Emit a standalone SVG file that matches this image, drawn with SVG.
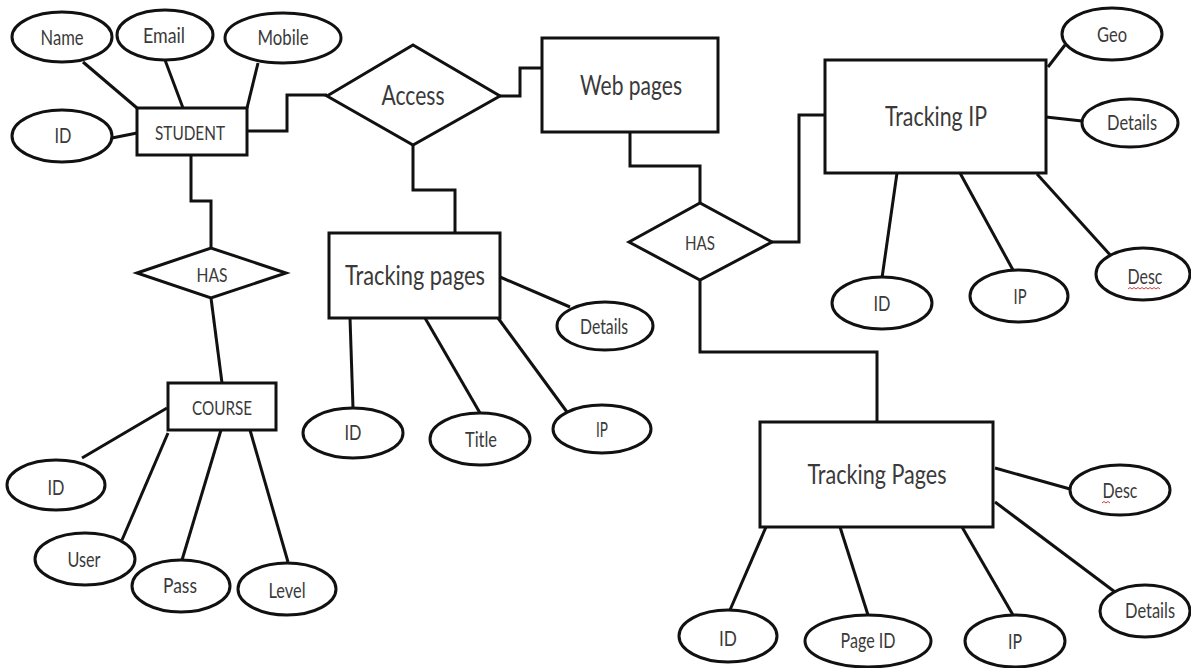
<svg xmlns="http://www.w3.org/2000/svg" width="1191" height="668" viewBox="0 0 1191 668">
<style>
.s{fill:#fff;stroke:#111;stroke-width:3}
.c{fill:none;stroke:#111;stroke-width:3}
text{font-family:Lato,"Open Sans","Liberation Sans",sans-serif;fill:#3a3a3a;text-anchor:middle}
.a{font-size:22px}
.e{font-size:20px}
.b{font-size:27px}
.sq{fill:none;stroke:#d04040;stroke-width:1}
</style>
<rect width="1191" height="668" fill="#fff"/>
<g id="connectors">
<path class="c" d="M83,62 L137,108"/>
<path class="c" d="M165,60 L183,108"/>
<path class="c" d="M258,63 L247,108"/>
<path class="c" d="M112,138 L137,133"/>
<path class="c" d="M247,131 H287 V95 H327"/>
<path class="c" d="M500,96 H520 V68 H542"/>
<path class="c" d="M413,145 V190 H455 V233"/>
<path class="c" d="M191,155 V201 H211 V248"/>
<path class="c" d="M211,298 L222,383"/>
<path class="c" d="M167,408 L82,458"/>
<path class="c" d="M168,433 L122,540"/>
<path class="c" d="M221,430 L182,560"/>
<path class="c" d="M250,430 L288,562"/>
<path class="c" d="M500,277 L570,307"/>
<path class="c" d="M350,318 L353,408"/>
<path class="c" d="M425,318 L480,413"/>
<path class="c" d="M498,318 L567,412"/>
<path class="c" d="M630,132 V166 H700 V203"/>
<path class="c" d="M772,242 H799 V115 H825"/>
<path class="c" d="M700,280 V352 H877 V422"/>
<path class="c" d="M1048,67 L1065,45"/>
<path class="c" d="M1046,117 L1082,121"/>
<path class="c" d="M897,173 L882,278"/>
<path class="c" d="M960,173 L1013,270"/>
<path class="c" d="M1037,174 L1112,257"/>
<path class="c" d="M766,527 L730,610"/>
<path class="c" d="M840,527 L868,615"/>
<path class="c" d="M962,527 L1013,615"/>
<path class="c" d="M995,468 L1070,489"/>
<path class="c" d="M995,502 L1115,592"/>
</g>
<g id="student"><rect class="s" x="137" y="108" width="110" height="47"/><text class="e" x="190" y="140" textLength="70" lengthAdjust="spacingAndGlyphs">STUDENT</text></g>
<g id="s-name"><ellipse class="s" cx="62" cy="37" rx="50" ry="25"/><text class="a" x="62" y="45" textLength="43" lengthAdjust="spacingAndGlyphs">Name</text></g>
<g id="s-email"><ellipse class="s" cx="165" cy="35" rx="48" ry="25"/><text class="a" x="164" y="43" textLength="42" lengthAdjust="spacingAndGlyphs">Email</text></g>
<g id="s-mobile"><ellipse class="s" cx="283" cy="38" rx="58" ry="25"/><text class="a" x="283" y="45" textLength="51" lengthAdjust="spacingAndGlyphs">Mobile</text></g>
<g id="s-id"><ellipse class="s" cx="62" cy="136" rx="50" ry="26"/><text class="a" x="63" y="143" textLength="17" lengthAdjust="spacingAndGlyphs">ID</text></g>
<g id="access"><polygon class="s" points="327,96 413,45 500,96 413,145"/><text class="b" x="413" y="105" textLength="63" lengthAdjust="spacingAndGlyphs">Access</text></g>
<g id="webpages"><rect class="s" x="542" y="38" width="176" height="94"/><text class="b" x="631" y="95" textLength="102" lengthAdjust="spacingAndGlyphs">Web pages</text></g>
<g id="has1"><polygon class="s" points="137,273 211,248 286,273 211,298"/><text class="e" x="212" y="282" textLength="31" lengthAdjust="spacingAndGlyphs">HAS</text></g>
<g id="course"><rect class="s" x="168" y="383" width="108" height="47"/><text class="e" x="222" y="415" textLength="60" lengthAdjust="spacingAndGlyphs">COURSE</text></g>
<g id="c-id"><ellipse class="s" cx="56" cy="485" rx="49" ry="25"/><text class="a" x="56" y="495" textLength="17" lengthAdjust="spacingAndGlyphs">ID</text></g>
<g id="c-user"><ellipse class="s" cx="85" cy="559" rx="50" ry="26"/><text class="a" x="84" y="567" textLength="33" lengthAdjust="spacingAndGlyphs">User</text></g>
<g id="c-pass"><ellipse class="s" cx="181" cy="586" rx="49" ry="26"/><text class="a" x="180" y="593" textLength="34" lengthAdjust="spacingAndGlyphs">Pass</text></g>
<g id="c-level"><ellipse class="s" cx="287" cy="589" rx="49" ry="26"/><text class="a" x="287" y="598" textLength="37" lengthAdjust="spacingAndGlyphs">Level</text></g>
<g id="trackingpages"><rect class="s" x="329" y="233" width="171" height="85"/><text class="b" x="415" y="285" textLength="140" lengthAdjust="spacingAndGlyphs">Tracking pages</text></g>
<g id="tp-details"><ellipse class="s" cx="605" cy="326" rx="48" ry="24"/><text class="a" x="604" y="334" textLength="48" lengthAdjust="spacingAndGlyphs">Details</text></g>
<g id="tp-id"><ellipse class="s" cx="353" cy="433" rx="50" ry="25"/><text class="a" x="353" y="440" textLength="17" lengthAdjust="spacingAndGlyphs">ID</text></g>
<g id="tp-title"><ellipse class="s" cx="480" cy="439" rx="50" ry="26"/><text class="a" x="481" y="447" textLength="32" lengthAdjust="spacingAndGlyphs">Title</text></g>
<g id="tp-ip"><ellipse class="s" cx="602" cy="429" rx="49" ry="24"/><text class="a" x="602" y="437" textLength="12" lengthAdjust="spacingAndGlyphs">IP</text></g>
<g id="has2"><polygon class="s" points="629,242 700,203 772,242 700,280"/><text class="e" x="700" y="250" textLength="30" lengthAdjust="spacingAndGlyphs">HAS</text></g>
<g id="trackingip"><rect class="s" x="825" y="60" width="221" height="113"/><text class="b" x="936" y="126" textLength="102" lengthAdjust="spacingAndGlyphs">Tracking IP</text></g>
<g id="tip-geo"><ellipse class="s" cx="1112" cy="34" rx="50" ry="26"/><text class="a" x="1112" y="42" textLength="30" lengthAdjust="spacingAndGlyphs">Geo</text></g>
<g id="tip-details"><ellipse class="s" cx="1130" cy="123" rx="48" ry="24"/><text class="a" x="1132" y="130" textLength="50" lengthAdjust="spacingAndGlyphs">Details</text></g>
<g id="tip-id"><ellipse class="s" cx="882" cy="303" rx="50" ry="26"/><text class="a" x="882" y="311" textLength="17" lengthAdjust="spacingAndGlyphs">ID</text></g>
<g id="tip-ip"><ellipse class="s" cx="1019" cy="296" rx="49" ry="26"/><text class="a" x="1020" y="304" textLength="13" lengthAdjust="spacingAndGlyphs">IP</text></g>
<g id="tip-desc"><ellipse class="s" cx="1143" cy="274" rx="47" ry="26"/><text class="a" x="1145" y="284" textLength="35" lengthAdjust="spacingAndGlyphs">Desc</text><path class="sq" d="M1128,289 l2,-1.5 l2,1.5 l2,-1.5 l2,1.5 l2,-1.5 l2,1.5 l2,-1.5 l2,1.5 l2,-1.5 l2,1.5 l2,-1.5 l2,1.5 l2,-1.5 l2,1.5 l2,-1.5 l2,1.5"/></g>
<g id="trackingPages2"><rect class="s" x="760" y="422" width="233" height="105"/><text class="b" x="877" y="484" textLength="139" lengthAdjust="spacingAndGlyphs">Tracking Pages</text></g>
<g id="tpg-id"><ellipse class="s" cx="728" cy="636" rx="49" ry="26"/><text class="a" x="728" y="646" textLength="18" lengthAdjust="spacingAndGlyphs">ID</text></g>
<g id="tpg-pageid"><ellipse class="s" cx="868" cy="641" rx="63" ry="26"/><text class="a" x="868" y="648" textLength="55" lengthAdjust="spacingAndGlyphs">Page ID</text></g>
<g id="tpg-ip"><ellipse class="s" cx="1015" cy="641" rx="50" ry="26"/><text class="a" x="1015" y="649" textLength="14" lengthAdjust="spacingAndGlyphs">IP</text></g>
<g id="tpg-desc"><ellipse class="s" cx="1120" cy="490" rx="50" ry="25"/><text class="a" x="1120" y="498" textLength="35" lengthAdjust="spacingAndGlyphs">Desc</text><path class="sq" d="M1102,503 l2,-1.5 l2,1.5 l2,-1.5 l2,1.5"/></g>
<g id="tpg-details"><ellipse class="s" cx="1145" cy="611" rx="45" ry="26"/><text class="a" x="1150" y="618" textLength="50" lengthAdjust="spacingAndGlyphs">Details</text></g>
</svg>
